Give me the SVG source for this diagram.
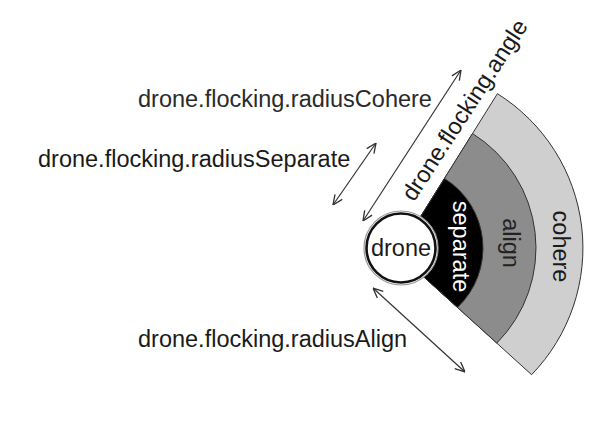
<svg xmlns="http://www.w3.org/2000/svg" width="598" height="423" viewBox="0 0 598 423">
<style>
text{font-family:"Liberation Sans",Arial,Helvetica,sans-serif;font-size:23.5px;fill:#1a1a1a}
.sec{stroke:#333;stroke-width:1}
.arr{stroke:#333;stroke-width:1.2;fill:none;marker-start:url(#ah);marker-end:url(#ah)}
</style>
<defs>
<marker id="ah" viewBox="0 0 10 10" refX="10" refY="5" markerWidth="11" markerHeight="11" markerUnits="userSpaceOnUse" orient="auto-start-reverse">
<path d="M1,1 L10,5 L1,9" fill="none" stroke="#333" stroke-width="1.2"/>
</marker>
</defs>
<rect width="598" height="423" fill="#fff"/>
<g id="cohere">
<path class="sec" fill="#cfcfcf" d="M401 248 L497.4 93.7 A182 182 0 0 1 531.6 374.7 L412.5 266.7 Z"/>
<text transform="translate(553,246.5) rotate(90)" text-anchor="middle">cohere</text>
</g>
<g id="align">
<path class="sec" fill="#8c8c8c" d="M401 248 L472.5 133.5 A135 135 0 0 1 496.8 343.1 L412.5 266.7 Z"/>
<text transform="translate(503,243) rotate(90)" text-anchor="middle" style="fill:#222">align</text>
</g>
<g id="separate">
<path class="sec" fill="#000" d="M401 248 L444.5 178.5 A82 82 0 0 1 457.5 307.4 L412.5 266.7 Z"/>
<text transform="translate(453,246.5) rotate(90)" text-anchor="middle" style="fill:#fff">separate</text>
</g>
<g id="drone">
<circle cx="401" cy="248" r="37" fill="#fff" stroke="#999" stroke-width="1.2"/>
<circle cx="401" cy="248" r="34.5" fill="#fff" stroke="#111" stroke-width="2.6"/>
<text x="401" y="256" text-anchor="middle">drone</text>
</g>
<g id="angle-label">
<text transform="translate(414,202.5) rotate(-57)">drone.flocking.angle</text>
</g>
<g id="connectors">
<line class="arr" x1="363" y1="221" x2="461" y2="70"/>
<line class="arr" x1="333" y1="205" x2="376" y2="143"/>
<line class="arr" x1="373" y1="288" x2="465" y2="372"/>
</g>
<g id="labels">
<text x="138" y="107" style="fill:#2a2a2a">drone.flocking.radiusCohere</text>
<text x="38" y="167">drone.flocking.radiusSeparate</text>
<text x="138" y="347">drone.flocking.radiusAlign</text>
</g>
</svg>
